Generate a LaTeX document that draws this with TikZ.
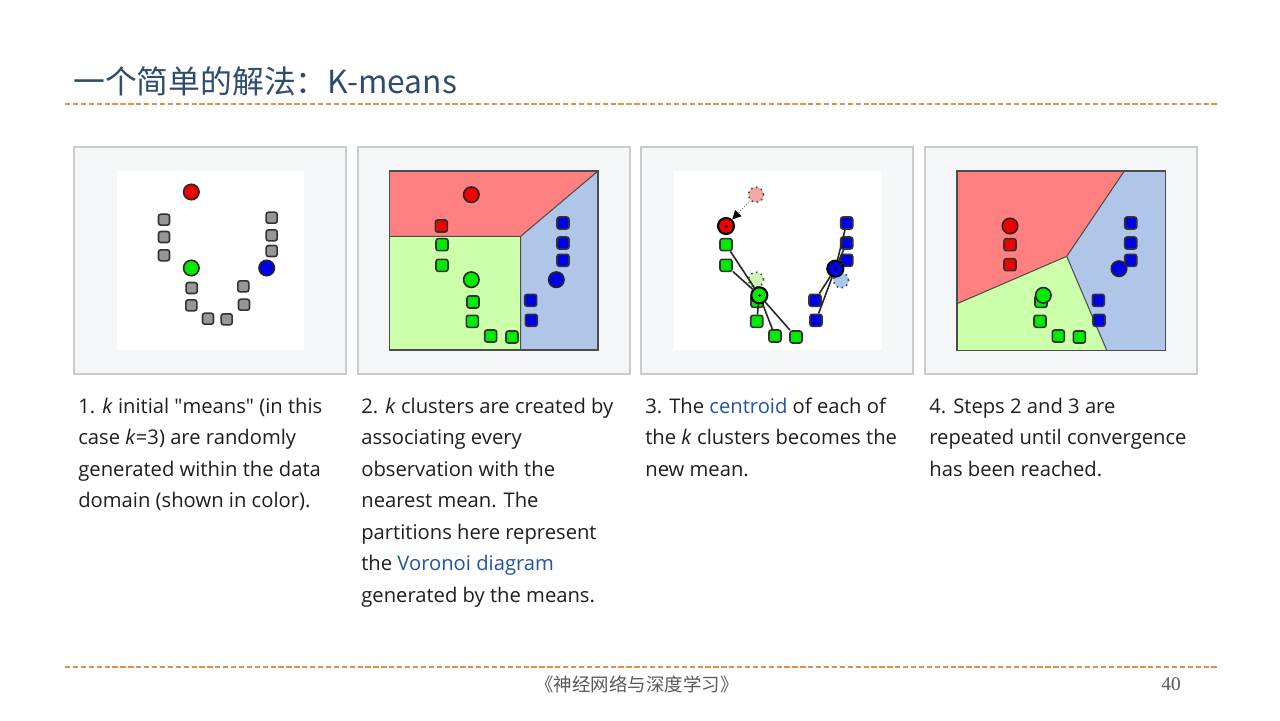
\documentclass[tikz,border=0pt]{standalone}
\usepackage{fontspec}
\setmainfont{Open Sans}
\newfontfamily\cjk{Noto Sans CJK SC}
\newfontfamily\pagenum{Liberation Serif}
\usetikzlibrary{arrows.meta}
\definecolor{titleblue}{RGB}{47,75,110}
\definecolor{dashorange}{RGB}{226,140,80}
\definecolor{framegray}{RGB}{200,204,207}
\definecolor{framefill}{RGB}{244,246,247}
\definecolor{linkblue}{RGB}{32,84,166}
\definecolor{textblack}{RGB}{30,30,30}
\definecolor{ptred}{RGB}{240,0,0}
\definecolor{ptgreen}{RGB}{0,235,0}
\definecolor{ptblue}{RGB}{0,0,230}
\definecolor{ptgray}{RGB}{150,150,150}
\definecolor{regred}{RGB}{255,128,128}
\definecolor{reggreen}{RGB}{204,255,170}
\definecolor{regblue}{RGB}{176,198,232}
\definecolor{fadered}{RGB}{245,168,168}
\definecolor{fadegreen}{RGB}{206,245,180}
\definecolor{fadeblue}{RGB}{168,200,240}
\newcommand{\drawframe}[1]{
  \draw[framegray,fill=framefill,line width=0.9pt] (#1,147) rectangle ++(272,227);
}
\tikzset{
  smallpt/.style={draw=black!80,line width=0.9pt,rounded corners=1.3pt,minimum size=0.22cm,inner sep=0pt,fill=#1},
  datapt/.style={draw=black!80,line width=0.9pt,rounded corners=1.3pt,minimum size=0.24cm,inner sep=0pt,fill=#1},
  meanpt/.style={circle,draw=black!85,line width=0.9pt,minimum size=0.31cm,inner sep=0pt,fill=#1},
  newmean/.style={circle,draw=black,line width=1.2pt,minimum size=0.32cm,inner sep=0pt,fill=#1,
    path picture={\draw[line width=0.4pt] (path picture bounding box.center) +(-1.5,0) -- +(1.5,0) +(0,-1.5) -- +(0,1.5);}},
  oldmean/.style={circle,draw=black!70,dotted,line width=0.9pt,minimum size=0.3cm,inner sep=0pt,fill=#1},
  plotedge/.style={draw=black!70,line width=0.6pt},
  caption/.style={anchor=base west,align=left,text=textblack,font=\fontsize{11.5}{17.9}\selectfont,inner sep=0pt}
}
\begin{document}
\begin{tikzpicture}[x=0.02cm,y=-0.02cm]
  \useasboundingbox[fill=white] (0,0) rectangle (1280,720);
  \node[anchor=base west,inner sep=0pt,text=titleblue,font=\cjk\fontsize{18.1}{22}\selectfont] (title) at (73,93) {一个简单的解法：K-means};
  \draw[dashorange,line width=0.6pt,dash pattern=on 3pt off 1.5pt] (65,104) -- (1217,104);
  \draw[dashorange,line width=0.6pt,dash pattern=on 3pt off 1.5pt] (65,667) -- (1217,667);
  \node[inner sep=0pt,text=black!65,font=\cjk\fontsize{10.5}{12}\selectfont] (book) at (637,684) {《神经网络与深度学习》};
  \node[inner sep=0pt,text=black!65,font=\pagenum\fontsize{11}{12}\selectfont] (page) at (1171,684) {40};

  % panel 1
  \drawframe{74}
  \fill[white] (117,171) rectangle (304,350);
  \foreach \x/\y [count=\i] in {164/219.7,164/237,164/255.3,271.7/217.7,271.7/235.3,271.7/251,
      191.7/288,191.3/305.3,208/318.7,226.7/319.3,243.3/286.3,244/304.7}
    \node[smallpt=ptgray] (a\i) at (\x,\y) {};
  \node[meanpt=ptred] (ar) at (191.3,192) {};
  \node[meanpt=ptgreen] (ag) at (191.3,268) {};
  \node[meanpt=ptblue] (ab) at (266.7,268) {};

  % panel 2
  \drawframe{358}
  \coordinate (bj) at (520.7,236.3);
  \fill[regred] (389.7,171) -- (598,171) -- (bj) -- (389.7,236.3) -- cycle;
  \fill[reggreen] (389.7,236.3) -- (bj) -- (520.7,350) -- (389.7,350) -- cycle;
  \fill[regblue] (bj) -- (598,171) -- (598,350) -- (520.7,350) -- cycle;
  \draw[plotedge] (389.7,236.3) -- (bj) -- (598,171) (bj) -- (520.7,350);
  \draw[plotedge] (389.7,171) rectangle (598,350);
  \node[datapt=ptred] (br1) at (441.3,226) {};
  \foreach \x/\y [count=\i] in {442/244.7,442/265.3,473/302,472.3/321.3,490.7/336,512/337}
    \node[datapt=ptgreen] (bg\i) at (\x,\y) {};
  \foreach \x/\y [count=\i] in {563/223,563/243,563/260.3,530.7/300.3,531.3/320.3}
    \node[datapt=ptblue] (bb\i) at (\x,\y) {};
  \node[meanpt=ptred] (br) at (471.3,194.7) {};
  \node[meanpt=ptgreen] (bg) at (471.3,279.7) {};
  \node[meanpt=ptblue] (bb) at (556.3,279.7) {};

  % panel 3
  \drawframe{641}
  \fill[white] (674,171) rectangle (882,350);
  \node[oldmean=fadered] (cro) at (756,194.7) {};
  \node[oldmean=fadegreen] (cgo) at (756,279.7) {};
  \node[oldmean=fadeblue] (cbo) at (841,280.3) {};
  \foreach \x/\y [count=\i] in {726/244.7,726/265.3,757/301.3,756.7/321.3,775/336,796/337}
    \node[datapt=ptgreen] (cg\i) at (\x,\y) {};
  \foreach \x/\y [count=\i] in {846.7/223,846.7/243,846.7/260.3,815/300.3,816/320.3}
    \node[datapt=ptblue] (cb\i) at (\x,\y) {};
  \node[newmean=ptred] (cr) at (726,226) {};
  \node[newmean=ptgreen] (cg) at (759.3,295.3) {};
  \node[newmean=ptblue] (cb) at (835.3,268.7) {};
  \draw[black!60,densely dotted,line width=0.5pt,-{Triangle[black,length=5pt,width=5pt]}] (cro) -- (cr);
  \foreach \i in {1,2,4,5,6}
    \draw[black!85,line width=0.9pt] (cg\i) -- (cg);
  \foreach \i in {1,2,3,4,5}
    \draw[black!85,line width=0.9pt] (cb\i) -- (cb);

  % panel 4
  \drawframe{925}
  \coordinate (dj) at (1066.7,256.3);
  \fill[regred] (957,171) -- (1124.3,171) -- (dj) -- (957,303.7) -- cycle;
  \fill[regblue] (1124.3,171) -- (1165.7,171) -- (1165.7,350.3) -- (1106.7,350.3) -- (dj) -- cycle;
  \fill[reggreen] (957,303.7) -- (dj) -- (1106.7,350.3) -- (957,350.3) -- cycle;
  \draw[plotedge] (1124.3,171) -- (dj) -- (957,303.7) (dj) -- (1106.7,350.3);
  \draw[plotedge] (957,171) rectangle (1165.7,350.3);
  \foreach \x/\y [count=\i] in {1010/244.7,1010/264.7}
    \node[datapt=ptred] (dr\i) at (\x,\y) {};
  \foreach \x/\y [count=\i] in {1041/301.3,1040/321.3,1058.3/336,1079.3/337}
    \node[datapt=ptgreen] (dg\i) at (\x,\y) {};
  \foreach \x/\y [count=\i] in {1130.7/223,1130.7/243,1130.7/260.3,1098.3/300.3,1099/320.3}
    \node[datapt=ptblue] (db\i) at (\x,\y) {};
  \node[meanpt=ptred] (dr) at (1010,226) {};
  \node[meanpt=ptgreen] (dg) at (1043.3,295.3) {};
  \node[meanpt=ptblue] (db) at (1119,268.7) {};

  % captions (anchored at the baseline of their last line)
  \node[caption] (cap1) at (78,507.5) {1. \textit{k} initial \textquotedbl means\textquotedbl{} (in this\\case \textit{k}=3) are randomly\\generated within the data\\domain (shown in color).};
  \node[caption] (cap2) at (361,602) {2. \textit{k} clusters are created by\\associating every\\observation with the\\nearest mean. The\\partitions here represent\\the \textcolor{linkblue}{Voronoi diagram}\\generated by the means.};
  \node[caption] (cap3) at (645,476) {3. The \textcolor{linkblue}{centroid} of each of\\the \textit{k} clusters becomes the\\new mean.};
  \node[caption] (cap4) at (929,476) {4. Steps 2 and 3 are\\repeated until convergence\\has been reached.};
\end{tikzpicture}
\end{document}
